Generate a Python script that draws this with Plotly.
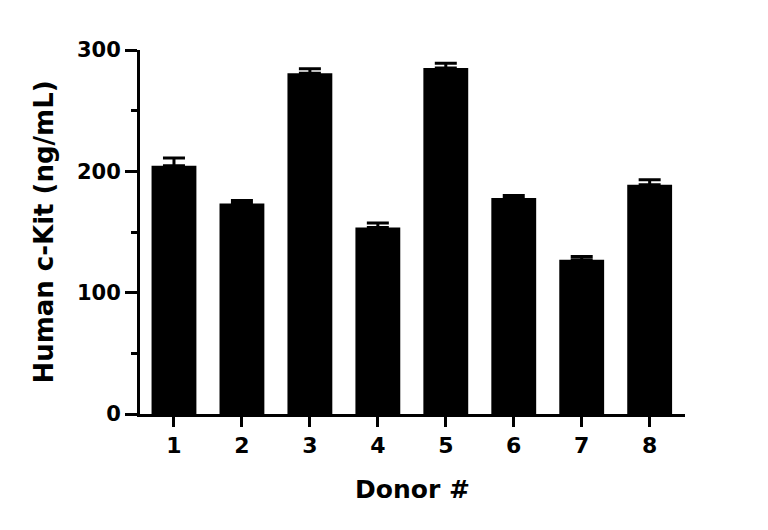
import plotly.graph_objects as go

donors = ["1", "2", "3", "4", "5", "6", "7", "8"]
ckit_mean = [204.5, 173.5, 280.8, 153.7, 285.2, 178.0, 127.2, 188.9]
ckit_err = [6.4, 2.5, 3.8, 3.7, 3.8, 2.1, 2.7, 4.1]
y_ticks = [0, 100, 200, 300]

FONT = "'DejaVu Sans', Inter, sans-serif"

x_pos = list(range(1, len(donors) + 1))

fig = go.Figure(
    go.Bar(
        x=x_pos,
        y=ckit_mean,
        width=0.66,
        marker=dict(color="black", line=dict(width=0)),
        error_y=dict(
            type="data",
            symmetric=False,
            array=ckit_err,
            arrayminus=[0] * len(ckit_err),
            color="black",
            thickness=3,
            width=11,
        ),
    )
)

fig.update_layout(
    width=768,
    height=530,
    paper_bgcolor="white",
    plot_bgcolor="white",
    margin=dict(l=140, r=83, t=50, b=116, autoexpand=False),
    showlegend=False,
    font=dict(family=FONT, color="black", size=21, weight=700),
)

fig.update_xaxes(
    range=[0.5, 8.52],
    tickmode="array",
    tickvals=x_pos,
    ticktext=donors,
    showline=True,
    linecolor="black",
    linewidth=3,
    ticks="outside",
    ticklen=10,
    tickwidth=3,
    tickcolor="black",
    showgrid=False,
    zeroline=False,
    ticklabelstandoff=0,
    tickfont=dict(family=FONT, size=22, weight=700),
    title=dict(text="Donor #", font=dict(family=FONT, size=25, weight=700), standoff=24),
)

fig.update_yaxes(
    range=[0, 300],
    tickmode="array",
    tickvals=y_ticks,
    showline=True,
    linecolor="black",
    linewidth=3,
    ticks="outside",
    ticklen=12,
    tickwidth=3,
    tickcolor="black",
    minor=dict(dtick=50, ticklen=6, tickwidth=3, tickcolor="black", ticks="outside"),
    showgrid=False,
    zeroline=False,
    tickfont=dict(family=FONT, size=21, weight=700),
    title=dict(text="Human c-Kit (ng/mL)", font=dict(family=FONT, size=26, weight=700), standoff=16),
)

fig.write_html(
    "out.html",
    config={"displayModeBar": False},
    post_script="document.body.style.margin='0px';document.body.style.padding='0px';",
)
